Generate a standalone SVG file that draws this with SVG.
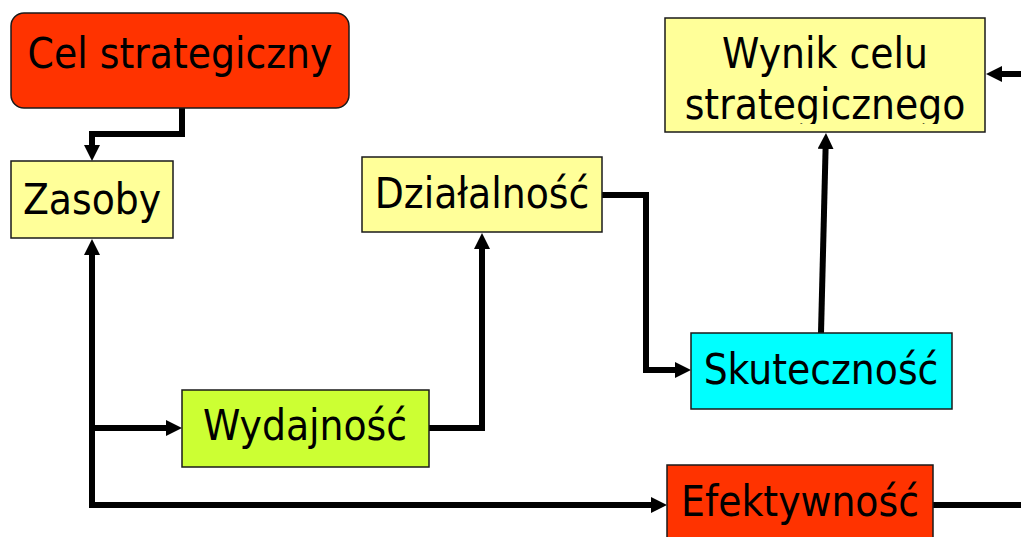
<svg xmlns="http://www.w3.org/2000/svg" width="1021" height="537" viewBox="0 0 1021 537">
<style>
.box{stroke:#1a1a1a;stroke-width:1.5}
.t{font-family:"DejaVu Sans Condensed","DejaVu Sans","Liberation Sans",sans-serif;font-size:42px;fill:#000;text-anchor:middle}
.c{fill:none;stroke:#000;stroke-width:6;stroke-linejoin:miter}
</style>
<defs>
<marker id="ah" markerUnits="userSpaceOnUse" markerWidth="18" markerHeight="18" refX="1" refY="8" orient="auto">
<polygon points="0,0 16,8 0,16" fill="#000"/>
</marker>
<clipPath id="wclip"><rect x="665" y="18" width="320" height="106"/></clipPath>
</defs>
<rect width="1021" height="537" fill="#fff"/>
<g id="connectors">
<polyline class="c" points="182,108 182,134 92,134 92,146" marker-end="url(#ah)"/>
<polyline class="c" points="92,505 92,254" marker-end="url(#ah)"/>
<polyline class="c" points="92,428 167,428" marker-end="url(#ah)"/>
<polyline class="c" points="89,505 652,505" marker-end="url(#ah)"/>
<polyline class="c" points="429,428 482,428 482,248" marker-end="url(#ah)"/>
<polyline class="c" points="602,195 646,195 646,370 676,370" marker-end="url(#ah)"/>
<polyline class="c" points="821,333 825.6,148" marker-end="url(#ah)"/>
<polyline class="c" points="1021,74 1001,74" marker-end="url(#ah)"/>
<polyline class="c" points="933,505 1021,505"/>
</g>
<g id="cel">
<rect class="box" x="11" y="13" width="338" height="95" rx="13" fill="#FF3300"/>
<text class="t" x="180" y="68">Cel strategiczny</text>
</g>
<g id="zasoby">
<rect class="box" x="11" y="161" width="162" height="77" fill="#FFFF99"/>
<text class="t" x="92" y="214">Zasoby</text>
</g>
<g id="dzialalnosc">
<rect class="box" x="362" y="157" width="240" height="75" fill="#FFFF99"/>
<text class="t" x="482" y="208">Działalność</text>
</g>
<g id="wynik">
<rect class="box" x="665" y="18" width="320" height="114" fill="#FFFF99"/>
<g clip-path="url(#wclip)">
<text class="t" x="825" y="68">Wynik celu</text>
<text class="t" x="825" y="119">strategicznego</text>
</g>
</g>
<g id="skutecznosc">
<rect class="box" x="691" y="333" width="261" height="76" fill="#00FFFF"/>
<text class="t" x="821" y="384">Skuteczność</text>
</g>
<g id="wydajnosc">
<rect class="box" x="182" y="390" width="247" height="77" fill="#CCFF33"/>
<text class="t" x="305" y="440">Wydajność</text>
</g>
<g id="efektywnosc">
<rect class="box" x="667" y="465" width="266" height="80" fill="#FF3300"/>
<text class="t" x="800" y="516">Efektywność</text>
</g>
</svg>
